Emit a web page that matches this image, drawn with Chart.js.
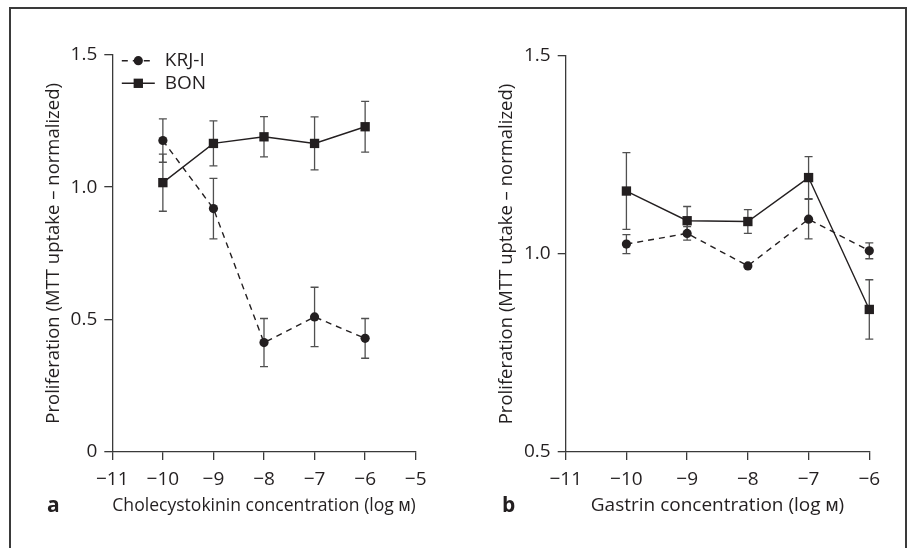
<!DOCTYPE html>
<html><head><meta charset="utf-8">
<script src="https://cdn.jsdelivr.net/npm/chart.js@4.4.1/dist/chart.umd.min.js"></script>
<style>
html,body{margin:0;padding:0;background:#fff;overflow:hidden;}
#wrap{position:relative;width:912px;height:548px;}
#frame{position:absolute;left:9px;top:7px;width:898px;height:620px;border:2px solid #3a3a3a;border-bottom:none;box-sizing:border-box;}
canvas{position:absolute;top:0;}
#ca{left:0;} #cb{left:456px;}
.lab{position:absolute;font-family:"Open Sans",sans-serif;font-weight:bold;font-size:21px;color:#231f20;line-height:1;}
</style></head>
<body><div id="wrap">
<div id="frame"></div>
<canvas id="ca" width="456" height="548"></canvas>
<canvas id="cb" width="456" height="548"></canvas>
<div class="lab" style="left:47px;top:494px;">a</div>
<div class="lab" style="left:502px;top:494px;">b</div>
</div>
<script>
// ---- data ----
const concentrations = [-10, -9, -8, -7, -6];
const cckKrj    = [1.176, 0.919, 0.413, 0.510, 0.429];
const cckKrjErr = [0.082, 0.114, 0.091, 0.112, 0.075];
const cckBon    = [1.017, 1.165, 1.190, 1.165, 1.228];
const cckBonErr = [0.108, 0.085, 0.076, 0.100, 0.096];
const gasKrj    = [1.025, 1.052, 0.970, 1.088, 1.008];
const gasKrjErr = [0.024, 0.017, 0.000, 0.050, 0.020];
const gasBon    = [1.159, 1.084, 1.082, 1.193, 0.860];
const gasBonErr = [0.097, 0.036, 0.030, 0.053, 0.075];
const xTicksA = [-11, -10, -9, -8, -7, -6, -5];
const xTicksB = [-11, -10, -9, -8, -7, -6];
const yTicksA = [0, 0.5, 1.0, 1.5];
const yTicksB = [0.5, 1.0, 1.5];
const seriesNames = ['KRJ-I', 'BON'];

const INK = '#231f20';
const FONT = '"Open Sans", sans-serif';

const errorBars = {
  id: 'errorBars',
  beforeDatasetsDraw(chart) {
    const {ctx, scales: {x, y}} = chart;
    ctx.save();
    ctx.strokeStyle = '#505050';
    ctx.lineWidth = 1.3;
    chart.data.datasets.forEach(ds => {
      ds.errors.forEach((e, j) => {
        if (!e) return;
        const p = ds.data[j];
        const px = x.getPixelForValue(p.x);
        const yt = y.getPixelForValue(p.y + e);
        const yb = y.getPixelForValue(p.y - e);
        ctx.beginPath();
        ctx.moveTo(px, yt); ctx.lineTo(px, yb);
        ctx.moveTo(px - 4, yt); ctx.lineTo(px + 4, yt);
        ctx.moveTo(px - 4, yb); ctx.lineTo(px + 4, yb);
        ctx.stroke();
      });
    });
    ctx.restore();
  }
};

const insideLegend = {
  id: 'insideLegend',
  afterDatasetsDraw(chart, args, opts) {
    if (!opts.show) return;
    const {ctx, chartArea: a} = chart;
    ctx.save();
    chart.data.datasets.forEach((ds, i) => {
      const yy = a.top + 6 + i * 22.6;
      const x0 = a.left + 9.5, x1 = a.left + 42.5, xm = a.left + 26;
      ctx.strokeStyle = ds.borderColor;
      ctx.lineWidth = ds.borderWidth;
      ctx.setLineDash(ds.borderDash || []);
      ctx.beginPath(); ctx.moveTo(x0, yy); ctx.lineTo(x1, yy); ctx.stroke();
      ctx.setLineDash([]);
      ctx.fillStyle = INK;
      ctx.beginPath();
      if (ds.pointStyle === 'rect') {
        const s = ds.pointRadius * Math.SQRT1_2;
        ctx.rect(xm - s, yy - s, 2 * s, 2 * s);
      } else {
        ctx.arc(xm, yy, ds.pointRadius, 0, Math.PI * 2);
      }
      ctx.fill();
      ctx.font = '19px ' + FONT;
      ctx.textBaseline = 'middle';
      ctx.textAlign = 'left';
      ctx.fillText(ds.label, a.left + 52.5, yy);
    });
    ctx.restore();
  }
};

function makeDatasets(krj, krjErr, bon, bonErr) {
  return [
    {
      label: seriesNames[0],
      data: concentrations.map((c, i) => ({x: c, y: krj[i]})),
      errors: krjErr,
      borderColor: INK, borderWidth: 1.4, borderDash: [6, 5],
      pointStyle: 'circle', pointRadius: 4.6, pointBackgroundColor: INK, pointBorderWidth: 0,
      tension: 0, clip: false, fill: false
    },
    {
      label: seriesNames[1],
      data: concentrations.map((c, i) => ({x: c, y: bon[i]})),
      errors: bonErr,
      borderColor: INK, borderWidth: 1.4,
      pointStyle: 'rect', pointRadius: 6.6, pointBackgroundColor: INK, pointBorderWidth: 0,
      tension: 0, clip: false, fill: false
    }
  ];
}

function makeOptions(p) {
  const tickFont = {family: FONT, size: 19};
  return {
    responsive: false, animation: false, devicePixelRatio: 1,
    events: [],
    layout: {padding: p.pad},
    plugins: {legend: {display: false}, tooltip: {enabled: false}, insideLegend: {show: p.legend}},
    scales: {
      x: {
        type: 'linear', min: p.xmin, max: p.xmax,
        afterFit(s) { s.height = p.xh; },
        afterBuildTicks(s) { s.ticks = p.xticks.map(v => ({value: v})); },
        ticks: {
          callback: v => (v < 0 ? '\u2212' : '') + Math.abs(v),
          font: tickFont, color: INK, padding: 8, maxRotation: 0, autoSkip: false
        },
        grid: {display: true, drawOnChartArea: false, drawTicks: true, tickLength: 8, color: '#3a3a3a', lineWidth: 1.3},
        border: {display: true, color: '#3a3a3a', width: 1.3},
        title: {display: true, text: p.xtitle, font: {family: FONT, size: 19}, color: INK, padding: 0}
      },
      y: {
        type: 'linear', min: p.ymin, max: p.ymax,
        afterFit(s) { s.width = p.yw; },
        afterBuildTicks(s) { s.ticks = p.yticks.map(v => ({value: v})); },
        ticks: {
          callback: v => (v === 0 ? '0' : Number(v).toFixed(1)),
          font: tickFont, color: INK, padding: 7
        },
        grid: {display: true, drawOnChartArea: false, drawTicks: true, tickLength: 8, color: '#3a3a3a', lineWidth: 1.3},
        border: {display: true, color: '#3a3a3a', width: 1.3},
        title: {display: true, text: 'Proliferation (MTT uptake \u2013 normalized)', font: {family: FONT, size: 18.5}, color: INK, padding: 0}
      }
    }
  };
}

new Chart(document.getElementById('ca'), {
  type: 'line',
  data: {datasets: makeDatasets(cckKrj, cckKrjErr, cckBon, cckBonErr)},
  options: makeOptions({
    pad: {left: 42.4, top: 54.7, right: 40.3, bottom: 30.6},
    xh: 65.4, yw: 69.9, xmin: -11, xmax: -5, ymin: 0, ymax: 1.5,
    xticks: xTicksA, yticks: yTicksA, legend: true,
    xtitle: 'Cholecystokinin concentration (log \u1D0D)'
  }),
  plugins: [errorBars, insideLegend]
});

new Chart(document.getElementById('cb'), {
  type: 'line',
  data: {datasets: makeDatasets(gasKrj, gasKrjErr, gasBon, gasBonErr)},
  options: makeOptions({
    pad: {left: 39.9, top: 56, right: 42.7, bottom: 30.6},
    xh: 65.4, yw: 69.8, xmin: -11, xmax: -6, ymin: 0.5, ymax: 1.5,
    xticks: xTicksB, yticks: yTicksB, legend: false,
    xtitle: 'Gastrin concentration (log \u1D0D)'
  }),
  plugins: [errorBars, insideLegend]
});
</script>
</body></html>
